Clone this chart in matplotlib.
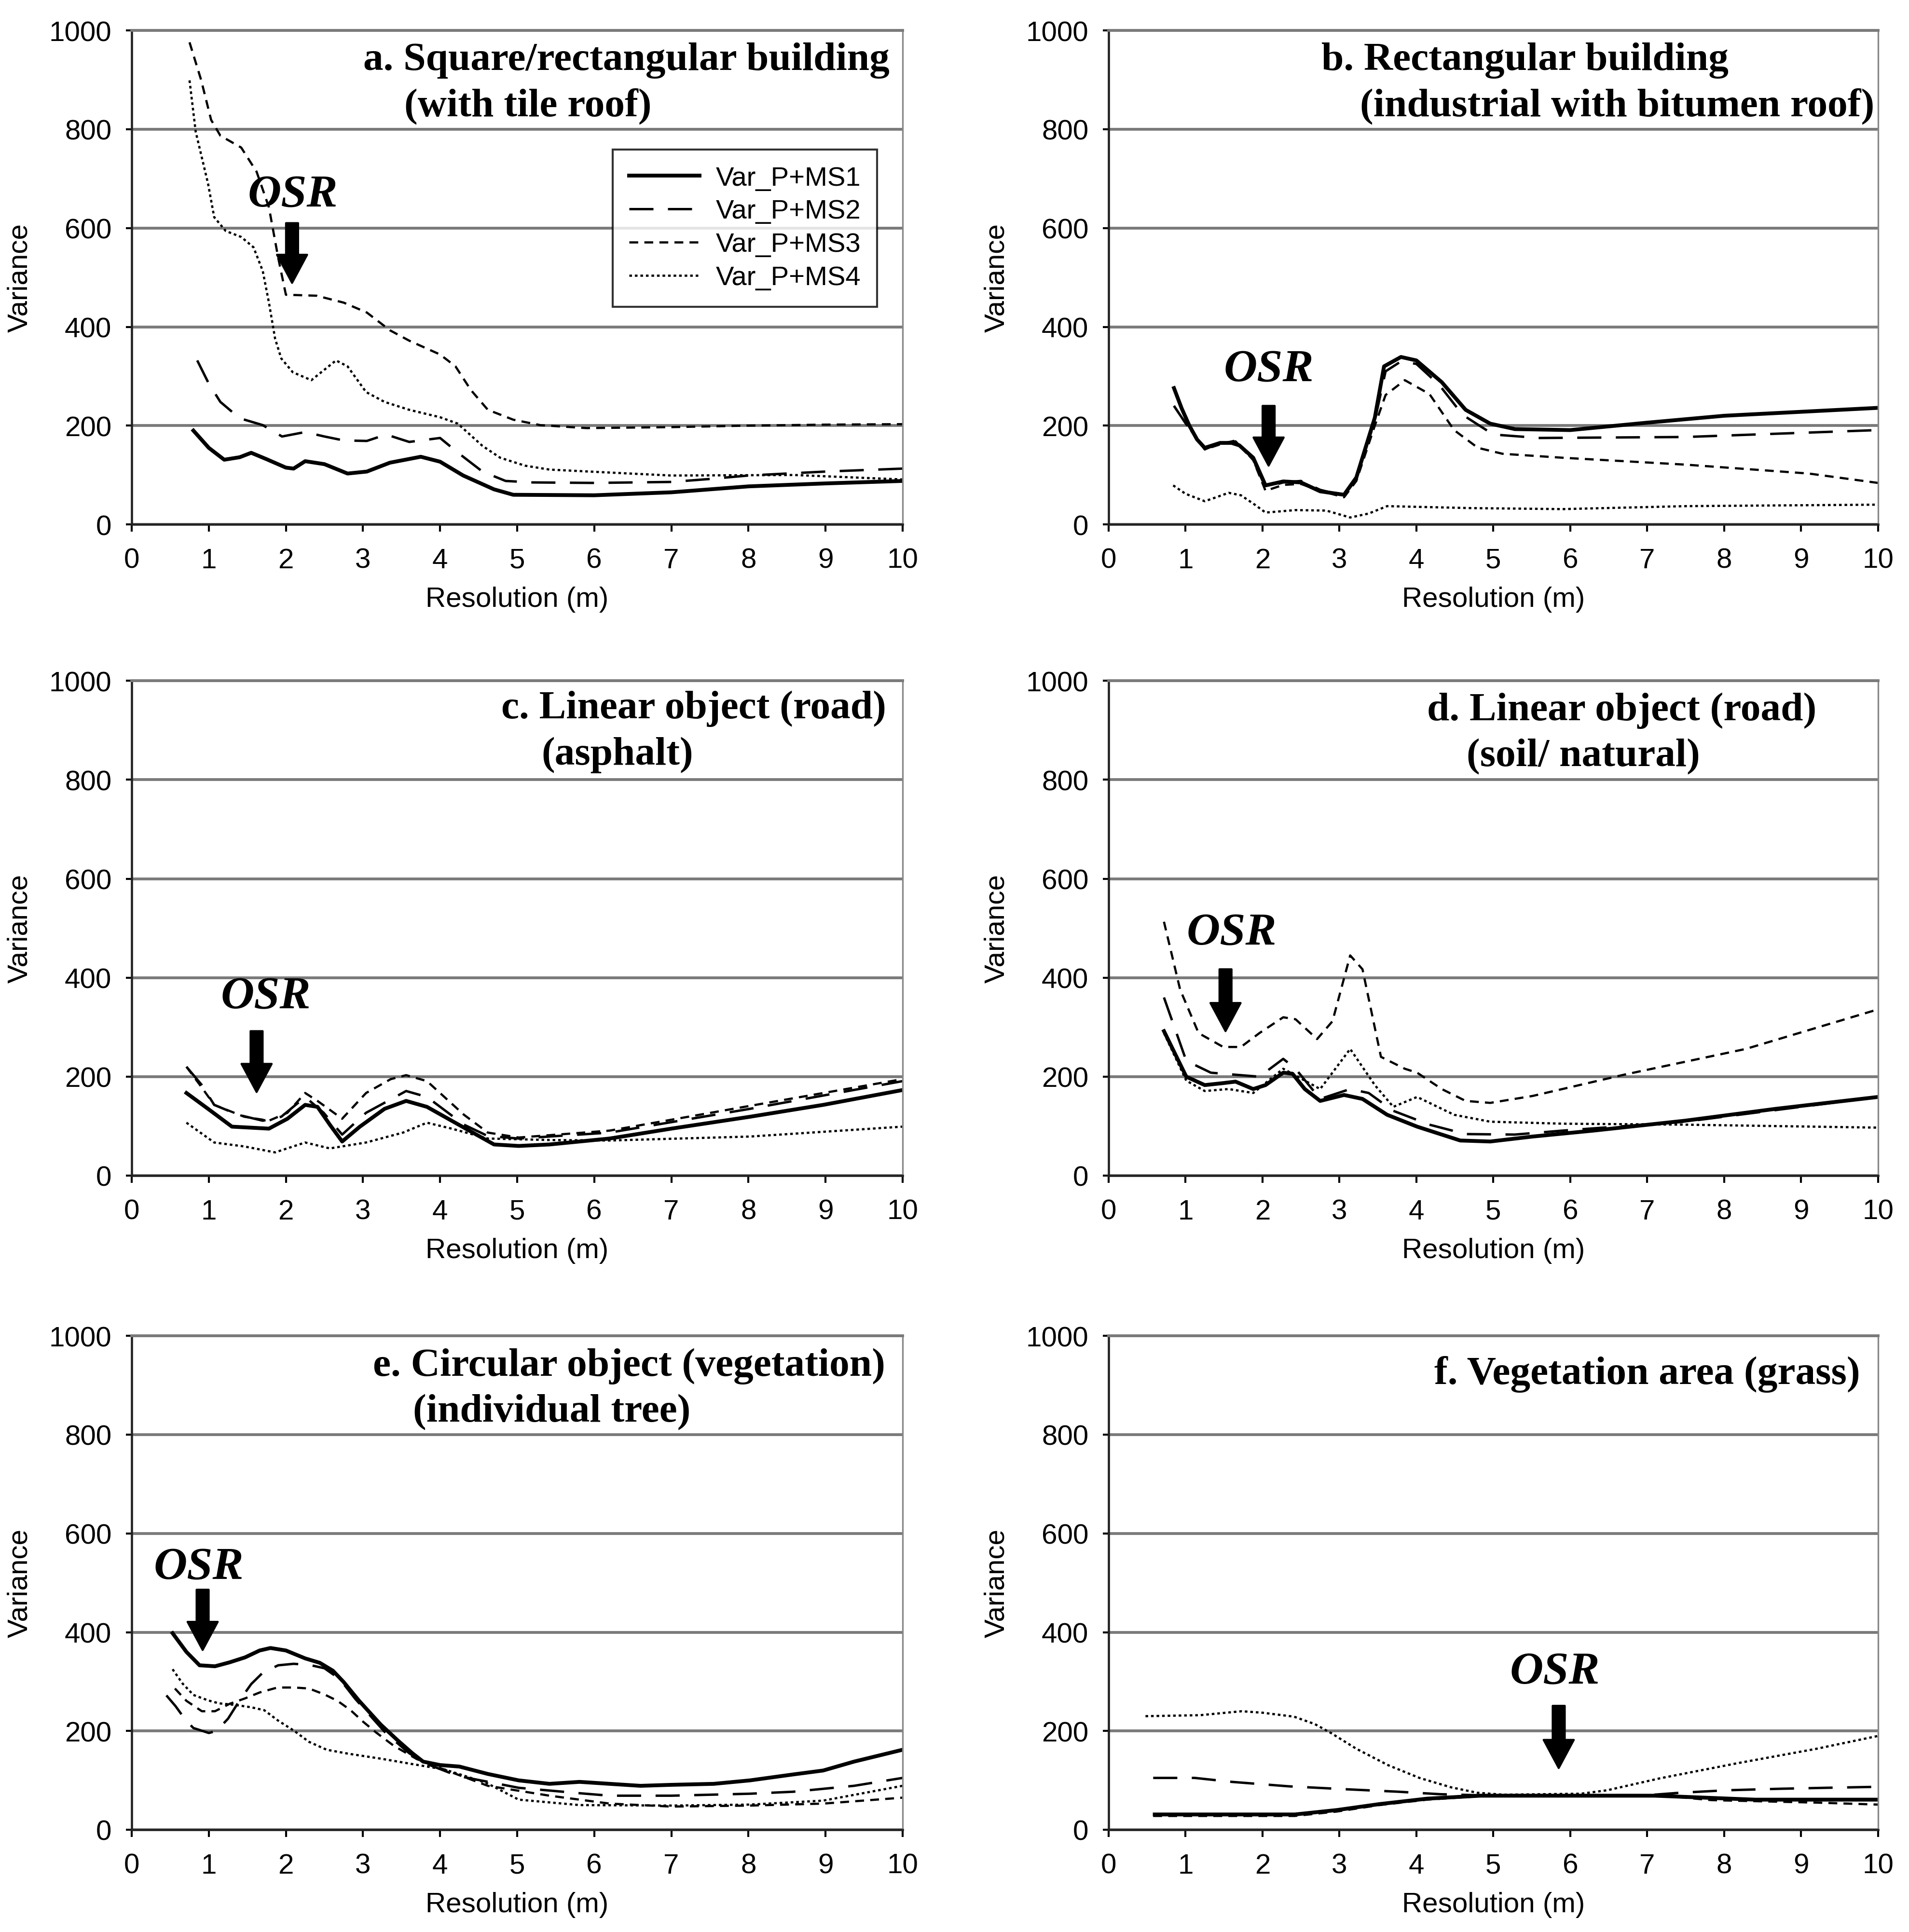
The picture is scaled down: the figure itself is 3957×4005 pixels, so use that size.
import matplotlib

matplotlib.use("Agg")

import matplotlib.pyplot as plt

SERIES = ["Var_P+MS1", "Var_P+MS2", "Var_P+MS3", "Var_P+MS4"]
X_TICKS = list(range(0, 11))
Y_TICKS = [0, 200, 400, 600, 800, 1000]
X_LABEL = "Resolution (m)"
Y_LABEL = "Variance"

# a. square / rectangular building
A_TITLE = ["a. Square/rectangular building", "(with tile roof)"]
A_MS1_X = [0.8, 1.0, 1.2, 1.4, 1.55, 1.75, 2.0, 2.1, 2.25, 2.5, 2.8, 3.05, 3.35, 3.75,
           4.0, 4.3, 4.7, 4.95, 6.0, 7.0, 8.0, 9.0, 10.0]
A_MS1_Y = [190, 155, 131, 136, 145, 132, 115, 113, 128, 122, 103, 107, 125, 137,
           127, 99, 71, 60, 59, 65, 77, 83, 88]
A_MS2_X = [0.85, 1.0, 1.15, 1.4, 1.7, 1.95, 2.25, 2.5, 2.75, 3.05, 3.3, 3.6, 4.0, 4.25,
           4.55, 4.85, 5.2, 6.0, 7.0, 7.5, 8.0, 9.0, 10.0]
A_MS2_Y = [332, 285, 248, 215, 201, 178, 187, 178, 170, 169, 182, 167, 175, 143,
           107, 88, 85, 84, 86, 92, 99, 107, 113]
A_MS3_X = [0.75, 0.9, 1.03, 1.15, 1.42, 1.62, 1.78, 1.9, 2.0, 2.4, 2.75, 3.05, 3.35, 3.6,
           4.0, 4.2, 4.4, 4.62, 4.95, 5.3, 5.9, 7.0, 8.0, 9.0, 10.0]
A_MS3_Y = [976, 900, 819, 787, 763, 714, 642, 540, 465, 463, 449, 429, 393, 372,
           344, 320, 272, 232, 212, 201, 195, 197, 200, 202, 203]
A_MS4_X = [0.75, 0.83, 0.99, 1.07, 1.22, 1.42, 1.58, 1.7, 1.78, 1.86, 1.94, 2.09, 2.33,
           2.49, 2.65, 2.8, 3.04, 3.28, 3.6, 4.0, 4.23, 4.55, 4.78, 5.1, 5.42, 6.2,
           7.0, 8.6, 10.0]
A_MS4_Y = [899, 795, 690, 622, 594, 582, 561, 513, 449, 376, 336, 308, 292,
           312, 332, 320, 268, 248, 232, 217, 204, 159, 135, 119, 111, 105,
           99, 100, 91]

# b. rectangular industrial building
B_TITLE = ["b. Rectangular building", "(industrial with bitumen roof)"]
B_MS1_X = [0.85, 0.95, 1.05, 1.15, 1.25, 1.45, 1.6, 1.7, 1.88, 2.04, 2.27, 2.5, 2.75,
           3.06, 3.22, 3.46, 3.58, 3.8, 4.0, 4.33, 4.64, 4.96, 5.28, 6.0, 7.0, 8.0, 10.0]
B_MS1_Y = [276, 235, 200, 172, 155, 165, 165, 160, 135, 79, 87, 85, 67,
           60, 95, 216, 320, 339, 332, 288, 232, 204, 193, 191, 206, 220, 236]
B_MS2_X = [0.85, 1.0, 1.25, 1.45, 1.65, 1.88, 2.04, 2.27, 2.5, 2.75, 3.06, 3.22, 3.46,
           3.6, 3.8, 4.0, 4.3, 4.6, 5.0, 5.6, 7.5, 10.0]
B_MS2_Y = [240, 205, 152, 165, 168, 130, 75, 85, 88, 70, 58, 92, 210,
           310, 330, 325, 282, 222, 182, 175, 177, 191]
B_MS3_X = [0.85, 1.0, 1.25, 1.45, 1.65, 1.88, 2.04, 2.27, 2.5, 2.75, 3.06, 3.22, 3.46,
           3.6, 3.85, 4.17, 4.49, 4.8, 5.12, 5.9, 7.5, 9.1, 10.0]
B_MS3_Y = [240, 205, 152, 162, 170, 130, 68, 80, 82, 68, 55, 88, 200,
           262, 292, 264, 191, 155, 143, 135, 121, 103, 84]
B_MS4_X = [0.84, 1.0, 1.25, 1.4, 1.56, 1.72, 1.9, 2.04, 2.43, 2.83, 3.14, 3.38, 3.62,
           4.72, 5.9, 7.5, 10.0]
B_MS4_Y = [79, 62, 47, 55, 64, 59, 40, 24, 29, 28, 14, 22, 37, 33, 31, 37, 40]

# c. road (asphalt)
C_TITLE = ["c. Linear object (road)", "(asphalt)"]
C_MS1_X = [0.71, 0.99, 1.3, 1.78, 2.02, 2.25, 2.41, 2.57, 2.73, 2.96, 3.28, 3.56, 3.83,
           4.15, 4.47, 4.7, 5.02, 5.42, 6.2, 7.0, 8.02, 8.97, 10.0]
C_MS1_Y = [167, 135, 99, 95, 115, 143, 139, 103, 69, 99, 135, 151, 139,
           111, 83, 63, 60, 63, 75, 95, 119, 143, 173]
C_MS2_X = [0.71, 0.91, 1.07, 1.38, 1.7, 1.94, 2.25, 2.49, 2.73, 3.04, 3.56, 3.83, 4.31,
           4.62, 5.02, 6.2, 8.02, 10.0]
C_MS2_Y = [220, 183, 143, 123, 111, 119, 159, 127, 83, 127, 171, 159, 103,
           80, 75, 87, 135, 191]
C_MS3_X = [0.71, 0.9, 1.07, 1.46, 1.78, 2.02, 2.25, 2.41, 2.73, 3.04, 3.36, 3.56, 3.83,
           4.31, 4.62, 5.02, 6.2, 8.02, 10.0]
C_MS3_Y = [220, 180, 143, 119, 111, 127, 167, 151, 115, 167, 195, 203, 191,
           123, 87, 77, 91, 141, 195]
C_MS4_X = [0.71, 1.07, 1.46, 1.86, 2.25, 2.57, 3.04, 3.52, 3.83, 4.15, 4.62, 5.42, 6.2,
           8.02, 10.0]
C_MS4_Y = [107, 67, 59, 47, 67, 55, 67, 87, 107, 95, 75, 72, 71, 79, 99]

# d. road (soil)
D_TITLE = ["d. Linear object (road)", "(soil/ natural)"]
D_MS1_X = [0.72, 1.01, 1.25, 1.49, 1.65, 1.88, 2.04, 2.27, 2.39, 2.55, 2.75, 3.06, 3.3,
           3.62, 4.01, 4.57, 4.96, 5.51, 6.3, 7.49, 8.67, 10.0]
D_MS1_Y = [292, 200, 183, 187, 190, 175, 183, 208, 206, 175, 151, 163, 155,
           123, 99, 71, 69, 79, 91, 111, 135, 159]
D_MS2_X = [0.72, 1.01, 1.33, 1.64, 1.96, 2.27, 2.43, 2.75, 3.14, 3.38, 3.7, 4.17, 4.64,
           5.28, 5.9, 7.49, 10.0]
D_MS2_Y = [360, 232, 208, 204, 200, 236, 216, 155, 175, 167, 131, 103, 84,
           83, 91, 109, 159]
D_MS3_X = [0.72, 0.93, 1.17, 1.49, 1.72, 1.96, 2.27, 2.43, 2.71, 2.91, 3.14, 3.3, 3.54,
           3.85, 4.01, 4.33, 4.64, 4.96, 5.51, 6.7, 8.28, 10.0]
D_MS3_Y = [513, 376, 288, 260, 260, 288, 320, 316, 276, 312, 445, 417, 240,
           216, 208, 175, 151, 147, 161, 204, 256, 336]
D_MS4_X = [0.72, 1.01, 1.25, 1.56, 1.88, 2.27, 2.75, 3.14, 3.46, 3.7, 4.01, 4.49, 4.96,
           5.9, 7.49, 10.0]
D_MS4_Y = [288, 192, 171, 175, 167, 216, 175, 256, 183, 139, 159, 123, 109,
           105, 103, 97]

# e. individual tree
E_TITLE = ["e. Circular object (vegetation)", "(individual tree)"]
E_MS1_X = [0.53, 0.71, 0.88, 1.08, 1.27, 1.47, 1.66, 1.8, 2.0, 2.25, 2.44, 2.61, 2.75,
           2.95, 3.23, 3.45, 3.64, 3.78, 4.0, 4.25, 4.62, 5.02, 5.42, 5.81, 6.2, 6.6,
           7.0, 7.55, 8.02, 8.58, 8.97, 9.37, 10.0]
E_MS1_Y = [398, 360, 333, 331, 339, 349, 363, 368, 363, 347, 338, 322, 299,
           261, 213, 181, 155, 138, 131, 128, 113, 100, 93, 97, 93, 89,
           91, 93, 100, 112, 120, 138, 162]
E_MS2_X = [0.45, 0.57, 0.7, 0.8, 1.0, 1.1, 1.25, 1.4, 1.55, 1.7, 1.9, 2.1, 2.3, 2.5,
           2.7, 2.9, 3.1, 3.3, 3.6, 3.8, 4.23, 5.02, 5.81, 6.2, 7.0, 8.02, 8.58, 9.37, 10.0]
E_MS2_Y = [272, 250, 222, 206, 196, 200, 225, 262, 295, 318, 333, 336, 334, 327,
           305, 265, 230, 195, 155, 135, 109, 85, 74, 69, 69, 73, 77, 89, 105]
E_MS3_X = [0.56, 0.71, 0.91, 1.08, 1.27, 1.47, 1.66, 1.89, 2.11, 2.3, 2.5, 2.67, 2.84,
           3.0, 3.17, 3.4, 3.7, 4.0, 4.62, 5.42, 6.2, 7.0, 8.02, 8.97, 10.0]
E_MS3_Y = [286, 261, 240, 240, 255, 266, 278, 288, 288, 286, 274, 261, 242,
           219, 197, 170, 143, 125, 89, 69, 53, 47, 49, 53, 65]
E_MS4_X = [0.53, 0.66, 0.8, 0.99, 1.13, 1.33, 1.55, 1.72, 1.89, 2.11, 2.3, 2.53, 2.81,
           3.23, 3.64, 4.06, 4.6, 5.02, 5.81, 7.0, 8.02, 8.97, 10.0]
E_MS4_Y = [325, 296, 273, 262, 256, 253, 248, 242, 222, 200, 178, 162, 154,
           144, 133, 122, 95, 61, 50, 49, 51, 59, 89]

# f. grass
F_TITLE = ["f. Vegetation area (grass)"]
F_MS1_X = [0.6, 2.42, 2.97, 3.52, 4.14, 4.83, 5.9, 7.1, 7.75, 8.4, 10.0]
F_MS1_Y = [31, 31, 40, 52, 63, 69, 69, 69, 65, 61, 61]
F_MS2_X = [0.58, 1.12, 1.6, 2.34, 3.09, 3.77, 4.31, 4.79, 5.9, 7.0, 7.43, 8.04, 8.72,
           9.33, 10.0]
F_MS2_Y = [105, 105, 97, 88, 82, 77, 72, 70, 70, 70, 75, 80, 83, 85, 87]
F_MS3_X = [0.58, 2.42, 2.97, 3.52, 4.14, 4.83, 5.9, 7.2, 7.84, 9.2, 10.0]
F_MS3_Y = [28, 28, 37, 50, 61, 68, 69, 69, 60, 55, 51]
F_MS4_X = [0.48, 1.19, 1.73, 2.0, 2.41, 2.68, 2.89, 3.22, 3.63, 4.04, 4.45, 4.79, 5.13,
           6.14, 6.48, 7.16, 8.18, 9.2, 10.0]
F_MS4_Y = [230, 232, 240, 237, 229, 214, 196, 164, 131, 105, 86, 75, 71,
           73, 80, 104, 135, 164, 190]

LINE_STYLES = [
    dict(color="black", linewidth=1.9, linestyle="-"),
    dict(color="black", linewidth=1.2, dashes=(10, 6)),
    dict(color="black", linewidth=1.1, dashes=(4, 2.8)),
    dict(color="black", linewidth=1.1, dashes=(1.2, 1.3)),
]

# layout: axes rect, title line anchors (x centre, y), OSR text and arrow
PANELS = [
    dict(rect=[0.0690, 0.7284, 0.4038, 0.2556], title=A_TITLE,
         title_pos=[(6.42, 940), (5.14, 847)],
         series=[(A_MS1_X, A_MS1_Y), (A_MS2_X, A_MS2_Y), (A_MS3_X, A_MS3_Y), (A_MS4_X, A_MS4_Y)],
         osr=(2.09, 666), arrow=(2.08, 610, 489), legend=True),
    dict(rect=[0.5807, 0.7284, 0.4031, 0.2556], title=B_TITLE,
         title_pos=[(5.41, 940), (6.61, 847)],
         series=[(B_MS1_X, B_MS1_Y), (B_MS2_X, B_MS2_Y), (B_MS3_X, B_MS3_Y), (B_MS4_X, B_MS4_Y)],
         osr=(2.08, 312), arrow=(2.08, 240, 119), legend=False),
    dict(rect=[0.0690, 0.3914, 0.4038, 0.2561], title=C_TITLE,
         title_pos=[(7.29, 944), (6.3, 851)],
         series=[(C_MS1_X, C_MS1_Y), (C_MS2_X, C_MS2_Y), (C_MS3_X, C_MS3_Y), (C_MS4_X, C_MS4_Y)],
         osr=(1.74, 360), arrow=(1.62, 292, 169), legend=False),
    dict(rect=[0.5807, 0.3914, 0.4031, 0.2561], title=D_TITLE,
         title_pos=[(6.67, 940), (6.17, 847)],
         series=[(D_MS1_X, D_MS1_Y), (D_MS2_X, D_MS2_Y), (D_MS3_X, D_MS3_Y), (D_MS4_X, D_MS4_Y)],
         osr=(1.6, 489), arrow=(1.52, 417, 292), legend=False),
    dict(rect=[0.0690, 0.0529, 0.4038, 0.2556], title=E_TITLE,
         title_pos=[(6.45, 939), (5.45, 846)],
         series=[(E_MS1_X, E_MS1_Y), (E_MS2_X, E_MS2_Y), (E_MS3_X, E_MS3_Y), (E_MS4_X, E_MS4_Y)],
         osr=(0.87, 530), arrow=(0.92, 486, 364), legend=False),
    dict(rect=[0.5807, 0.0529, 0.4031, 0.2556], title=F_TITLE,
         title_pos=[(7.0, 923)],
         series=[(F_MS1_X, F_MS1_Y), (F_MS2_X, F_MS2_Y), (F_MS3_X, F_MS3_Y), (F_MS4_X, F_MS4_Y)],
         osr=(5.8, 318), arrow=(5.85, 251, 125), legend=False),
]

SANS = ["Liberation Sans", "DejaVu Sans"]
SERIF = ["Liberation Serif", "DejaVu Serif"]


def draw_panel(fig, panel):
    """Draw one variance panel."""
    ax = fig.add_axes(panel["rect"])

    for (xs, ys), label, style in zip(panel["series"], SERIES, LINE_STYLES):
        ax.plot(xs, ys, label=label, **style)

    ax.set_xlim(0, 10)
    ax.set_ylim(0, 1000)
    ax.set_xticks(X_TICKS)
    ax.set_yticks(Y_TICKS)

    ax.yaxis.grid(True, color="#7a7a7a", linewidth=1.4)
    ax.set_axisbelow(True)

    for side in ["left", "bottom"]:
        ax.spines[side].set_color("#222222")
        ax.spines[side].set_linewidth(1.1)
    ax.spines["top"].set_color("#7a7a7a")
    ax.spines["top"].set_linewidth(1.4)
    ax.spines["right"].set_color("#888888")
    ax.spines["right"].set_linewidth(0.8)

    ax.tick_params(axis="x", direction="out", length=3.5, width=1.0, pad=8, labelsize=14)
    ax.tick_params(axis="y", direction="out", length=3.0, width=1.0, pad=7, labelsize=14)
    for label in ax.get_xticklabels() + ax.get_yticklabels():
        label.set_family(SANS)

    ax.set_xlabel(X_LABEL, fontsize=14, family=SANS)
    ax.set_ylabel(Y_LABEL, fontsize=14, family=SANS)
    ax.xaxis.set_label_coords(0.5, -0.125)
    ax.yaxis.set_label_coords(-0.128, 0.5)

    for text, (tx, ty) in zip(panel["title"], panel["title_pos"]):
        ax.text(tx, ty, text, ha="center", va="center", fontsize=20,
                fontweight="bold", family=SERIF)

    ox, oy = panel["osr"]
    ax.text(ox, oy, "OSR", ha="center", va="center", fontsize=23,
            fontweight="bold", fontstyle="italic", family=SERIF)

    ax_x, y_tail, y_tip = panel["arrow"]
    ax.annotate(
        "",
        xy=(ax_x, y_tip),
        xytext=(ax_x, y_tail),
        arrowprops=dict(facecolor="black", edgecolor="black", width=6,
                        headwidth=15, headlength=14, shrink=0),
    )

    if panel["legend"]:
        legend = ax.legend(
            loc="upper right",
            bbox_to_anchor=(0.967, 0.759),
            fontsize=13.5,
            frameon=True,
            fancybox=False,
            edgecolor="black",
            handlelength=2.6,
            handletextpad=0.6,
            labelspacing=0.3,
            borderpad=0.6,
            borderaxespad=0,
            prop=dict(family=SANS, size=13.5),
        )
        legend.get_frame().set_linewidth(1.0)

    return ax


fig = plt.figure(figsize=(13.19, 13.353), dpi=300)

for panel in PANELS:
    draw_panel(fig, panel)

fig.savefig("out.png", dpi=300, facecolor="white")
plt.close(fig)
